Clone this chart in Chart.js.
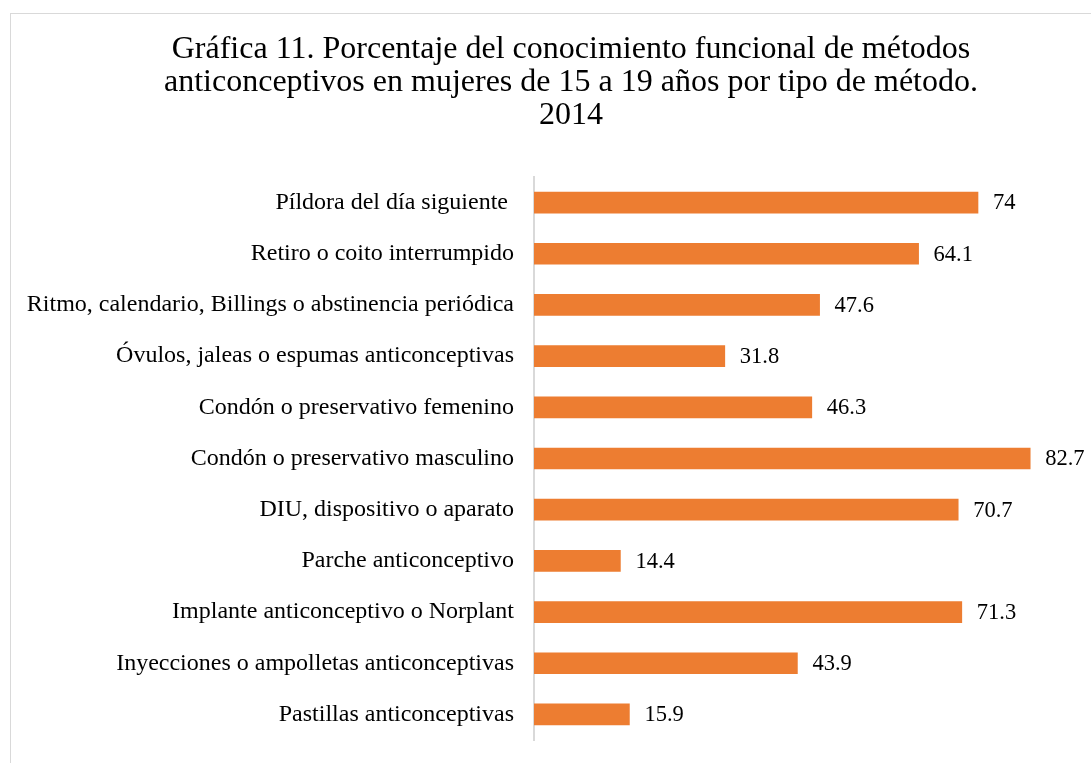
<!DOCTYPE html>
<html>
<head>
<meta charset="utf-8">
<script src="https://cdn.jsdelivr.net/npm/chart.js@4/dist/chart.umd.min.js"></script>
<style>
html,body{margin:0;padding:0;background:#fff;}
#wrap{position:relative;width:1091px;height:763px;}
</style>
</head>
<body>
<div id="wrap"><canvas id="c" width="1091" height="763"></canvas></div>
<script>
const categories = [
  "Píldora del día siguiente ",
  "Retiro o coito interrumpido",
  "Ritmo, calendario, Billings o abstinencia periódica",
  "Óvulos, jaleas o espumas anticonceptivas",
  "Condón o preservativo femenino",
  "Condón o preservativo masculino",
  "DIU, dispositivo o aparato",
  "Parche anticonceptivo",
  "Implante anticonceptivo o Norplant",
  "Inyecciones o ampolletas anticonceptivas",
  "Pastillas anticonceptivas"
];
const values = [74, 64.1, 47.6, 31.8, 46.3, 82.7, 70.7, 14.4, 71.3, 43.9, 15.9];
const titleLines = [
  "Gráfica 11. Porcentaje del conocimiento funcional de métodos",
  "anticonceptivos en mujeres de 15 a 19 años por tipo de método.",
  "2014"
];

const SERIF = "'Liberation Serif', 'Times New Roman', serif";

const framePlugin = {
  id: 'frame',
  beforeDraw(chart) {
    const ctx = chart.ctx;
    ctx.save();
    ctx.fillStyle = '#ffffff';
    ctx.fillRect(0, 0, chart.width, chart.height);
    ctx.strokeStyle = '#d9d9d9';
    ctx.lineWidth = 1;
    ctx.strokeRect(10.5, 13.5, chart.width + 20, chart.height + 20);
    ctx.restore();
  }
};

const titlePlugin = {
  id: 'titleText',
  afterDraw(chart) {
    const ctx = chart.ctx;
    ctx.save();
    ctx.font = "32px " + SERIF;
    ctx.fillStyle = '#000000';
    ctx.textAlign = 'center';
    ctx.textBaseline = 'middle';
    titleLines.forEach((line, i) => {
      ctx.fillText(line, 571, 50 + i * 33);
    });
    ctx.restore();
  }
};

const valueLabels = {
  id: 'valueLabels',
  afterDatasetsDraw(chart) {
    const ctx = chart.ctx;
    const meta = chart.getDatasetMeta(0);
    ctx.save();
    ctx.font = "22.5px " + SERIF;
    ctx.fillStyle = '#000000';
    ctx.textAlign = 'left';
    ctx.textBaseline = 'middle';
    meta.data.forEach((bar, i) => {
      ctx.fillText(String(values[i]), bar.x + 15, bar.y + 1);
    });
    ctx.restore();
  }
};

new Chart(document.getElementById('c'), {
  type: 'bar',
  data: {
    labels: categories,
    datasets: [{
      data: values,
      backgroundColor: '#ED7D31',
      borderWidth: 0,
      barThickness: 21
    }]
  },
  options: {
    indexAxis: 'y',
    responsive: false,
    maintainAspectRatio: false,
    animation: false,
    layout: { autoPadding: false, padding: { left: 0, right: 17, top: 177, bottom: 23 } },
    plugins: {
      legend: { display: false },
      tooltip: { enabled: false },
      title: { display: false }
    },
    scales: {
      x: {
        display: false,
        min: 0,
        max: 90
      },
      y: {
        afterFit(scale) {
          scale.width = 534;
          scale.paddingTop = 0;
          scale.paddingBottom = 0;
        },
        grid: { display: false, drawTicks: false },
        border: { display: true, color: '#d9d9d9', width: 2 },
        ticks: {
          color: '#000000',
          padding: 20,
          font: { family: SERIF, size: 24 }
        }
      }
    }
  },
  plugins: [framePlugin, titlePlugin, valueLabels]
});
</script>
</body>
</html>
